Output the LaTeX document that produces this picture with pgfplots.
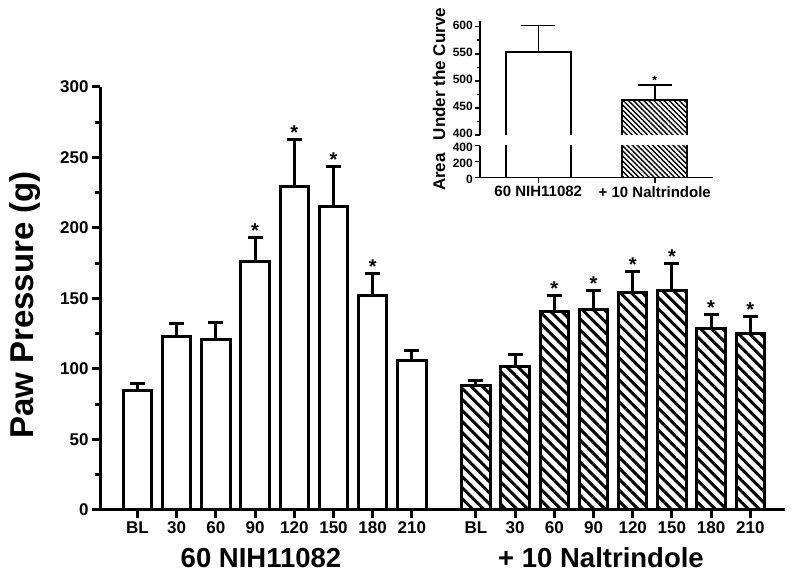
\documentclass[border=0pt]{standalone}
\usepackage{pgfplots}
\pgfplotsset{compat=1.18}
\usetikzlibrary{patterns.meta}
\usepackage{fontspec}
\setmainfont{Liberation Sans}

\pgfplotstableread{
x      y     e
1      85    5
2      123   9.5
3      121   12
4      176   17.5
5      229.5 33.5
6      215   28.5
7      152   16
8      106   7
}\groupA

\pgfplotstableread{
x       y     e
9.635   88    4
10.635  102   8.5
11.635  141   11
12.635  142   13.5
13.635  154.5 14.5
14.635  156   18.5
15.635  129   9.5
16.635  125.5 12
}\groupB

\pgfplotstableread{
x  y    e
1  554  48
}\aucA
\pgfplotstableread{
x  y    e
2  464  28
}\aucB
% outlines of the inset bars (open at the bottom, for the broken upper panel)
\pgfplotstableread{
x     y
0.72  300
0.72  554
1.28  554
1.28  300
}\aucAoutline
\pgfplotstableread{
x     y
1.72  300
1.72  464
2.28  464
2.28  300
}\aucBoutline

\begin{document}
\begin{tikzpicture}[x=1pt,y=1pt]
\path[use as bounding box] (0,0) rectangle (798,577);

% ---------------- main axis ----------------
\begin{axis}[
  at={(100pt,67pt)}, anchor=south west, scale only axis,
  width=685pt, height=423pt,
  xmin=0.043, xmax=17.52, ymin=0, ymax=300,
  axis x line*=bottom, axis y line*=left,
  axis line style={line width=3pt,-},
  tick align=outside,
  major tick length=8pt, minor tick length=5pt,
  every tick/.style={line width=3pt,black},
  ytick={0,50,...,300}, minor y tick num=1,
  xtick={1,2,3,4,5,6,7,8,9.635,10.635,11.635,12.635,13.635,14.635,15.635,16.635},
  xticklabels={BL,30,60,90,120,150,180,210,BL,30,60,90,120,150,180,210},
  tick label style={font=\fontsize{17}{20}\selectfont\bfseries},
  /pgf/number format/assume math mode=true,
  clip=false,
]
\addplot[ybar, bar width=0.727, bar shift=0pt, draw=black, line width=3pt, fill=white,
  error bars/.cd, y dir=plus, y explicit,
  error bar style={line width=3pt,black},
  error mark options={rotate=90,mark size=7.5pt,line width=3pt,black}]
  table[x=x,y=y,y error=e]{\groupA};
\addplot[ybar, bar width=0.727, bar shift=0pt, draw=black, line width=3pt,
  pattern={Lines[angle=-45,distance=7.8pt,line width=3pt]},
  error bars/.cd, y dir=plus, y explicit,
  error bar style={line width=3pt,black},
  error mark options={rotate=90,mark size=7.5pt,line width=3pt,black}]
  table[x=x,y=y,y error=e]{\groupB};
\begin{scope}[every node/.style={anchor=base,inner sep=0pt,font=\fontsize{20}{20}\selectfont\bfseries}]
\node at (axis cs:4,193.5) {*};
\node at (axis cs:5,263) {*};
\node at (axis cs:6,243.5) {*};
\node at (axis cs:7,168) {*};
\node at (axis cs:11.635,152) {*};
\node at (axis cs:12.635,155.5) {*};
\node at (axis cs:13.635,169) {*};
\node at (axis cs:14.635,174.5) {*};
\node at (axis cs:15.635,138.5) {*};
\node at (axis cs:16.635,137.5) {*};
\end{scope}
\end{axis}

\node[anchor=base,font=\fontsize{27.5}{30}\selectfont\bfseries] at (261,9) {60 NIH11082};
\node[anchor=base,font=\fontsize{27.5}{30}\selectfont\bfseries] at (601,9) {+ 10 Naltrindole};
\node[rotate=90,anchor=base,font=\fontsize{33}{36}\selectfont\bfseries] at (33,272) {Paw Pressure (g)};

% ---------------- inset upper ----------------
\begin{axis}[
  at={(480pt,442pt)}, anchor=south west, scale only axis,
  width=233pt, height=113.7pt,
  xmin=0.5, xmax=2.5, ymin=400, ymax=610,
  axis x line=none, axis y line*=left,
  axis line style={line width=1.5pt,-},
  tick align=outside,
  major tick length=5pt, minor tick length=3pt,
  every tick/.style={line width=1.5pt,black},
  ytick={400,450,...,600}, minor y tick num=1, xtick=\empty,
  y tick label style={font=\fontsize{12}{13}\selectfont\bfseries,inner sep=0pt,xshift=-2pt,yshift=1.5pt},
  /pgf/number format/assume math mode=true,
]
\addplot[draw=black, line width=2pt, fill=white, mark=none]
  table[x=x,y=y]{\aucAoutline};
\addplot[draw=black, line width=2pt, mark=none,
  pattern={Lines[angle=-45,distance=3.6pt,line width=1.4pt]}]
  table[x=x,y=y]{\aucBoutline};
\addplot[draw=none, mark=none,
  error bars/.cd, y dir=plus, y explicit,
  error bar style={line width=1.5pt,draw=black,solid},
  error mark options={rotate=90,mark size=17pt,line width=1.5pt,draw=black}]
  table[x=x,y=y,y error=e]{\aucA};
\addplot[draw=none, mark=none,
  error bars/.cd, y dir=plus, y explicit,
  error bar style={line width=1.5pt,draw=black,solid},
  error mark options={rotate=90,mark size=17pt,line width=1.5pt,draw=black}]
  table[x=x,y=y,y error=e]{\aucB};
\node[anchor=base,inner sep=0pt,font=\fontsize{12}{12}\selectfont\bfseries] at (axis cs:2,493) {*};
\end{axis}

% ---------------- inset lower ----------------
\begin{axis}[
  at={(480pt,399.3pt)}, anchor=south west, scale only axis,
  width=233pt, height=32pt,
  xmin=0.5, xmax=2.5, ymin=0, ymax=400,
  axis x line*=bottom, axis y line*=left,
  axis line style={line width=1.5pt,-},
  tick align=outside,
  major tick length=5pt,
  every tick/.style={line width=1.5pt,black},
  ytick={0,200,400}, xtick={1,2},
  xticklabels={60 NIH11082,+ 10 Naltrindole},
  y tick label style={font=\fontsize{12}{13}\selectfont\bfseries,inner sep=0pt,xshift=-2pt,yshift=-1.5pt},
  x tick label style={font=\fontsize{15}{17}\selectfont\bfseries},
  /pgf/number format/assume math mode=true,
]
\addplot[ybar, bar width=0.56, bar shift=0pt, draw=black, line width=2pt, fill=white]
  table[x=x,y=y]{\aucA};
\addplot[ybar, bar width=0.56, bar shift=0pt, draw=black, line width=2pt,
  pattern={Lines[angle=-45,distance=3.6pt,line width=1.4pt]}]
  table[x=x,y=y]{\aucB};
\end{axis}

\node[rotate=90,anchor=base,font=\fontsize{17}{19}\selectfont\bfseries] at (445,503) {Under the Curve};
\node[rotate=90,anchor=base,font=\fontsize{17}{19}\selectfont\bfseries] at (445,405) {Area};
\end{tikzpicture}
\end{document}
